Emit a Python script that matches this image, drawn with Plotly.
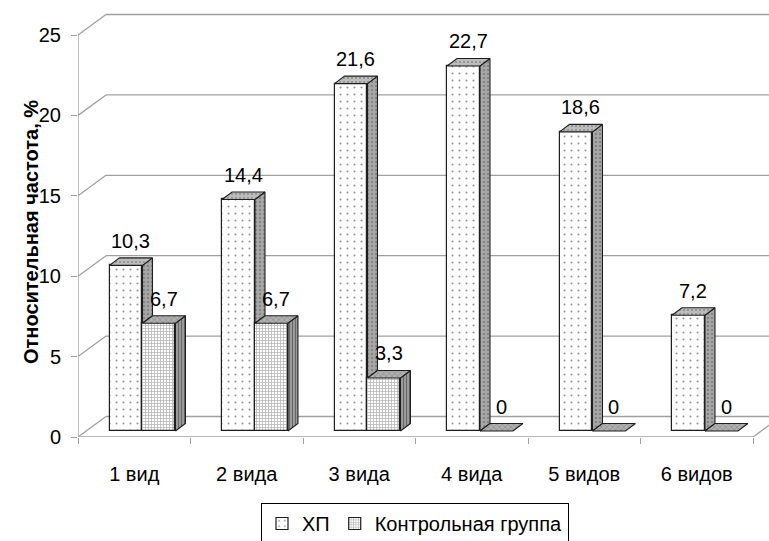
import plotly.graph_objects as go

# ---- data -------------------------------------------------------------
categories = ["1 вид", "2 вида", "3 вида", "4 вида", "5 видов", "6 видов"]
hp_values = [10.3, 14.4, 21.6, 22.7, 18.6, 7.2]
control_values = [6.7, 6.7, 3.3, 0, 0, 0]
series_names = ["ХП", "Контрольная группа"]
y_ticks = [0, 5, 10, 15, 20, 25]
y_title = "Относительная частота, %"

# ---- layout geometry (pseudo-3D projection, axis units) ----------------
W, H = 769, 541
M_L, M_B = 78, 104
PX_X = 112.5                      # pixels per category
PX_Y = 16.08                      # pixels per percent
X_MAX = (W - M_L) / PX_X
Y_MAX = (H - M_B) / PX_Y
WALL_DX, WALL_DY = 28 / PX_X, 20.5 / PX_Y   # depth of the walls/floor
OFF_DX, OFF_DY = 8 / PX_X, 6 / PX_Y         # bars sit a little behind the front
DEP_DX, DEP_DY = 10 / PX_X, 7.5 / PX_Y      # depth of each bar
BAR_W = 0.293
GROUP_C = 0.502

FONT = "Liberation Sans, Arial, sans-serif"
GRID = "#a0a0a0"
EDGE = "#1e1e1e"

n = len(categories)
hp_x = [i + GROUP_C - BAR_W / 2 + OFF_DX for i in range(n)]
ctl_x = [i + GROUP_C + BAR_W / 2 + OFF_DX for i in range(n)]

fig = go.Figure()


def line(xs, ys):
    fig.add_trace(go.Scatter(x=xs, y=ys, mode="lines", cliponaxis=False,
                             line=dict(color=GRID, width=1.3),
                             hoverinfo="skip", showlegend=False))


def wall_line(x0, y0, x1, y1):
    fig.add_shape(type="line", xref="x", yref="y", x0=x0, y0=y0, x1=x1, y1=y1,
                  layer="below", line=dict(color=GRID, width=1.3))


# back wall gridlines and left-wall diagonals (behind the bars)
for t in y_ticks:
    wall_line(0, t, WALL_DX, t + WALL_DY)
    wall_line(WALL_DX, t + WALL_DY, X_MAX + 1, t + WALL_DY)
# floor front edge, right floor edge and value axis
line([0, n], [0, 0])
line([n, n + WALL_DX], [0, WALL_DY])
line([0, 0], [0, y_ticks[-1]])


def faces(xc, lo, hi):
    """Side and top polygons for a bar with front centred at xc."""
    side_x, side_y, top_x, top_y = [], [], [], []
    for x, a, h in zip(xc, lo, hi):
        xl, xr = x - BAR_W / 2, x + BAR_W / 2
        b = OFF_DY
        if h > a:
            side_x += [xr, xr + DEP_DX, xr + DEP_DX, xr, xr, None]
            side_y += [b + a, b + a + DEP_DY, b + h + DEP_DY, b + h, b + a, None]
        top_x += [xl, xr, xr + DEP_DX, xl + DEP_DX, xl, None]
        top_y += [b + h, b + h, b + h + DEP_DY, b + h + DEP_DY, b + h, None]
    return side_x, side_y, top_x, top_y


def face_trace(xs, ys, pattern):
    fig.add_trace(go.Scatter(x=xs, y=ys, mode="lines", fill="toself",
                             fillcolor=pattern["bgcolor"], fillpattern=pattern,
                             line=dict(color=EDGE, width=1.1), cliponaxis=False,
                             hoverinfo="skip", showlegend=False))


# front faces as bars
fig.add_trace(go.Bar(
    x=hp_x, y=hp_values, base=OFF_DY, width=BAR_W, name=series_names[0],
    marker=dict(color="white",
                pattern=dict(shape=".", fgcolor="#2a2a2a", bgcolor="white",
                             size=7, solidity=0.07),
                line=dict(color=EDGE, width=1.2))))
fig.add_trace(go.Bar(
    x=ctl_x, y=control_values, base=OFF_DY, width=BAR_W, name=series_names[1],
    marker=dict(color="white",
                pattern=dict(shape="+", fgcolor="#6e6e6e", bgcolor="white",
                             size=3, solidity=0.45),
                line=dict(color=EDGE, width=1.2))))

# side/top faces: ХП side starts where the neighbouring bar ends
sx, sy, tx, ty = faces(hp_x, control_values, hp_values)
face_trace(sx, sy, dict(shape=".", fgcolor="#4a4a4a", bgcolor="#a6a6a6",
                        size=4, solidity=0.2))
face_trace(tx, ty, dict(shape=".", fgcolor="#5a5a5a", bgcolor="#bcbcbc",
                        size=4, solidity=0.2))
sx, sy, tx, ty = faces(ctl_x, [0] * n, control_values)
face_trace(sx, sy, dict(shape="|", fgcolor="#333333", bgcolor="#9a9a9a",
                        size=3, solidity=0.35))
face_trace(tx, ty, dict(shape="x", fgcolor="#3a3a3a", bgcolor="#b0b0b0",
                        size=4, solidity=0.2))

# value labels
for xs, vals in ((hp_x, hp_values), (ctl_x, control_values)):
    for x, v in zip(xs, vals):
        fig.add_annotation(x=x + DEP_DX / 2, y=OFF_DY + v + DEP_DY,
                           text=f"{v:g}".replace(".", ","), showarrow=False,
                           yanchor="middle", yshift=17,
                           font=dict(family=FONT, size=20, color="black"))

# axis title
fig.add_annotation(xref="paper", yref="paper",
                   x=(18 - M_L) / (W - M_L), y=(H - M_B - 232) / (H - M_B),
                   text="<b>" + y_title + "</b>", textangle=-90, showarrow=False,
                   font=dict(family=FONT, size=20, color="black"))

fig.update_layout(
    width=W, height=H,
    margin=dict(l=M_L, r=0, t=0, b=M_B, pad=0, autoexpand=False),
    plot_bgcolor="white", paper_bgcolor="white",
    barmode="overlay", bargap=0,
    font=dict(family=FONT, size=20, color="black"),
    xaxis=dict(range=[0, X_MAX], tickmode="array",
               tickvals=[i + 0.5 for i in range(n)], ticktext=categories,
               ticks="outside", ticklen=19, tickcolor="rgba(0,0,0,0)",
               tickfont=dict(family=FONT, size=20, color="black"),
               minor=dict(tickmode="array", tickvals=list(range(n + 1)),
                          ticks="outside", ticklen=6, tickcolor=GRID,
                          tickwidth=1.3),
               showgrid=False, zeroline=False, showline=False, fixedrange=True,
               automargin=False),
    yaxis=dict(range=[0, Y_MAX], tickmode="array", tickvals=y_ticks,
               ticks="outside", ticklen=6, tickcolor=GRID, tickwidth=1.3,
               ticklabelstandoff=6,
               tickfont=dict(family=FONT, size=20, color="black"),
               showgrid=False, zeroline=False, showline=False, fixedrange=True,
               automargin=False),
    legend=dict(orientation="h", x=(415 - M_L) / (W - M_L), xanchor="center",
                y=(H - M_B - 503) / (H - M_B), yanchor="top",
                bordercolor="black", borderwidth=1,
                font=dict(family=FONT, size=20, color="black"),
                itemwidth=30, traceorder="normal"),
)

fig.write_html("out.html")
